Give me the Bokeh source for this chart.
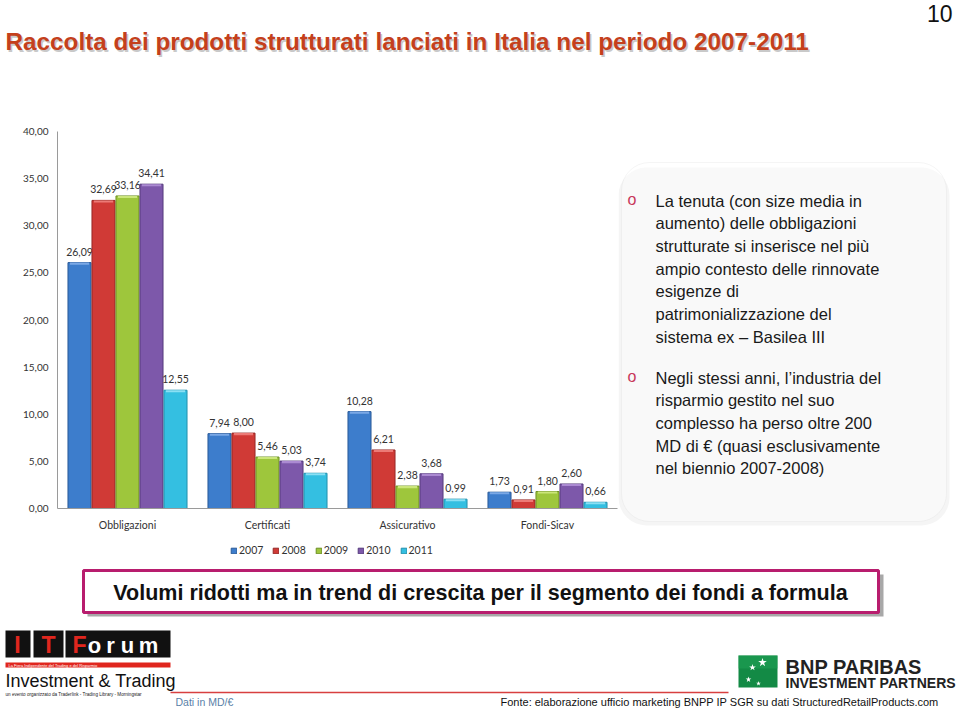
from bokeh.plotting import figure
from bokeh.layouts import column, row
from bokeh.models import (Range1d, FactorRange, FixedTicker, Legend, LegendItem,
                          BoxAnnotation, ColumnDataSource)
from bokeh.transform import dodge
from bokeh.core.properties import value
from bokeh.embed import file_html
from bokeh.resources import INLINE

# ---------------- data ----------------
categories = ["Obbligazioni", "Certificati", "Assicurativo", "Fondi-Sicav"]
years = ["2007", "2008", "2009", "2010", "2011"]
v2007 = [26.09, 7.94, 10.28, 1.73]
v2008 = [32.69, 8.00, 6.21, 0.91]
v2009 = [33.16, 5.46, 2.38, 1.80]
v2010 = [34.41, 5.03, 3.68, 2.60]
v2011 = [12.55, 3.74, 0.99, 0.66]
y_ticks = [0, 5, 10, 15, 20, 25, 30, 35, 40]
y_tick_labels = ["0,00", "5,00", "10,00", "15,00", "20,00", "25,00", "30,00", "35,00", "40,00"]

series = [v2007, v2008, v2009, v2010, v2011]
colors = ["#3d7dcc", "#d03a36", "#9ec63c", "#7d58aa", "#34bfe1"]
dark = ["#2a5a98", "#962826", "#6c8f24", "#553a7c", "#2290ad"]
light = ["#7aa8e6", "#ec7a76", "#cbe67a", "#ab8ad2", "#8ae0f4"]

SANS = "Liberation Sans"
CAL = "Lato"


def canvas(w, h, x0, x1, y0, y1, **kw):
    f = figure(width=w, height=h, x_range=Range1d(x0, x1), y_range=Range1d(y1, y0),
               output_backend="svg", toolbar_location=None, min_border=0,
               x_axis_location=None, y_axis_location=None, **kw)
    f.outline_line_color = None
    f.grid.visible = False
    f.background_fill_color = "white"
    f.border_fill_color = "white"
    return f

# ---------------- top (title) ----------------
TITLE = "Raccolta dei prodotti strutturati lanciati in Italia nel periodo 2007-2011"
top = canvas(960, 120, 0, 960, 0, 120)
top.text(x=[6.5], y=[42.5], text=[TITLE], text_font=value(SANS), text_font_style="bold",
         text_font_size="24.3px", text_color="#c9c9c9", text_baseline="middle", text_align="left")
top.text(x=[5], y=[41], text=[TITLE], text_font=value(SANS), text_font_style="bold",
         text_font_size="24.3px", text_color="#c4401c", text_baseline="middle", text_align="left")
top.text(x=[952], y=[13], text=["10"], text_font=value(SANS), text_font_size="23px",
         text_color="#111111", text_baseline="middle", text_align="right")

# ---------------- bar chart ----------------
p = figure(width=618, height=420, x_range=FactorRange(factors=categories, range_padding=0),
           y_range=Range1d(0, 40), output_backend="svg", toolbar_location=None,
           min_border_left=57, min_border_right=1, min_border_top=11, min_border_bottom=32)
p.outline_line_color = None
p.grid.visible = False
p.background_fill_color = "white"
p.border_fill_color = "white"

bw = 24.0 / 140.0
for i, vals in enumerate(series):
    off = (i - 2) * bw
    src = ColumnDataSource(dict(cat=categories, val=vals,
                                cap=[v - 0.22 for v in vals],
                                lab=[f"{v:.2f}".replace(".", ",") for v in vals]))
    p.vbar(x=dodge("cat", off, range=p.x_range), top="val", bottom=0, width=bw * 0.96,
           source=src, fill_color=colors[i], line_color=dark[i], line_width=1)
    p.vbar(x=dodge("cat", off, range=p.x_range), top="val", bottom="cap", width=bw * 0.8,
           source=src, fill_color=light[i], line_color=None)
    p.text(x=dodge("cat", off, range=p.x_range), y="val", text="lab", source=src,
           text_font=value(CAL), text_font_size="10.5px", text_color="#333333",
           text_align="center", text_baseline="bottom", y_offset=-7)

p.yaxis.ticker = FixedTicker(ticks=y_ticks)
p.yaxis.major_label_overrides = {t: l for t, l in zip(y_ticks, y_tick_labels)}
p.yaxis.major_tick_line_color = None
p.yaxis.minor_tick_line_color = None
p.yaxis.axis_line_color = "#9a9a9a"
p.yaxis.major_label_text_font = CAL
p.yaxis.major_label_text_font_size = "10px"
p.yaxis.major_label_text_color = "#333333"
p.yaxis.major_label_standoff = 3

p.xaxis.major_tick_line_color = None
p.xaxis.axis_line_color = "#9a9a9a"
p.xaxis.major_label_text_font = CAL
p.xaxis.major_label_text_font_size = "10.5px"
p.xaxis.major_label_text_color = "#333333"
p.xaxis.major_label_standoff = 4

# legend strip under the chart
lf = figure(width=618, height=20, x_range=Range1d(0, 1), y_range=Range1d(0, 1),
            output_backend="svg", toolbar_location=None, min_border=0,
            min_border_left=57, min_border_right=1,
            x_axis_location=None, y_axis_location=None)
lf.outline_line_color = None
lf.grid.visible = False
items = []
for i, yr in enumerate(years):
    r = lf.quad(left=[-6], right=[-5], top=[-5], bottom=[-6],
                fill_color=colors[i], line_color=dark[i])
    items.append(LegendItem(label=yr, renderers=[r]))
lf.add_layout(Legend(items=items, orientation="horizontal", location=(173, 4),
                     label_text_font=CAL, label_text_font_size="10.5px", label_text_color="#333333",
                     glyph_width=7, glyph_height=7, spacing=9, label_standoff=2,
                     label_height=12, padding=1, margin=0, border_line_color=None,
                     background_fill_alpha=0))

# ---------------- right text panel ----------------
tp = canvas(342, 440, 618, 960, 120, 560)
tp.add_layout(BoxAnnotation(left=618, right=949, top=167, bottom=525, border_radius=28,
                            fill_color="#e6e6e6", line_color=None, level="underlay"))
tp.add_layout(BoxAnnotation(left=621, right=946, top=162, bottom=521, border_radius=28,
                            fill_color="white", line_color="#dedede", line_width=1,
                            level="underlay"))
para1 = ["La tenuta (con size media in", "aumento) delle obbligazioni",
         "strutturate si inserisce nel più", "ampio contesto delle rinnovate",
         "esigenze di", "patrimonializzazione del", "sistema ex \u2013 Basilea III"]
para2 = ["Negli stessi anni, l\u2019industria del", "risparmio gestito nel suo",
         "complesso ha perso oltre 200", "MD di \u20ac (quasi esclusivamente",
         "nel biennio 2007-2008)"]
lh = 22.7
ys1 = [200 + k * lh for k in range(len(para1))]
ys2 = [377 + k * lh for k in range(len(para2))]
tp.text(x=[655] * (len(para1) + len(para2)), y=ys1 + ys2, text=para1 + para2,
        text_font=value(SANS), text_font_size="16.5px", text_color="#1a1a1a",
        text_baseline="middle", text_align="left")
tp.text(x=[627, 627], y=[199, 376], text=["o", "o"], text_font=value(SANS),
        text_font_size="16px", text_color="#c8385a", text_baseline="middle", text_align="left")

# ---------------- bottom ----------------
bt = canvas(960, 148, 0, 960, 560, 708)
bt.quad(left=[87], right=[883], top=[574], bottom=[616], fill_color="#a8a8a8", line_color=None)
bt.quad(left=[83], right=[878], top=[570], bottom=[612], fill_color="white",
        line_color="#b81d6e", line_width=3)
bt.text(x=[480], y=[592], text=["Volumi ridotti ma in trend di crescita per il segmento dei fondi a formula"],
        text_font=value(SANS), text_font_style="bold", text_font_size="21.5px",
        text_color="#111111", text_baseline="middle", text_align="center")

bt.quad(left=[5, 33, 65], right=[30, 63, 170], top=[630, 630, 630], bottom=[657, 657, 657],
        fill_color="#111111", line_color=None)
bt.text(x=[17, 48, 79], y=[644, 644, 644], text=["I", "T", "F"], text_font=value(SANS),
        text_font_style="bold", text_font_size="23px", text_color="#e0261e",
        text_baseline="middle", text_align="center")
bt.text(x=[94, 110, 127, 148], y=[645, 645, 645, 645], text=["o", "r", "u", "m"],
        text_font=value(SANS), text_font_style="bold", text_font_size="22px",
        text_color="white", text_baseline="middle", text_align="center")
bt.quad(left=[5], right=[170], top=[662], bottom=[667], fill_color="#e0261e", line_color=None)
bt.text(x=[8], y=[664.5], text=["La Fiera Indipendente del Trading e del Risparmio"],
        text_font=value(SANS), text_font_size="4px", text_color="white",
        text_baseline="middle", text_align="left")
bt.text(x=[5], y=[680], text=["Investment & Trading"], text_font=value(SANS),
        text_font_size="18px", text_color="#111111", text_baseline="middle", text_align="left")
bt.text(x=[5], y=[694], text=["un evento organizzato da Traderlink - Trading Library - Morningstar"],
        text_font=value(SANS), text_font_size="4.6px", text_color="#222222",
        text_baseline="middle", text_align="left")
bt.segment(x0=[170], y0=[692], x1=[728], y1=[692], line_color="#d84040", line_width=1.5)
bt.text(x=[175], y=[701], text=["Dati in MD/\u20ac"], text_font=value(SANS),
        text_font_size="10.5px", text_color="#5a7fa8", text_baseline="middle", text_align="left")
bt.text(x=[500], y=[701], text=["Fonte: elaborazione ufficio marketing BNPP IP SGR su dati StructuredRetailProducts.com"],
        text_font=value(SANS), text_font_size="11px", text_color="#111111",
        text_baseline="middle", text_align="left")

bt.quad(left=[738], right=[777], top=[655], bottom=[687], fill_color="#138a45", line_color=None)
bt.quad(left=[738], right=[777], top=[655], bottom=[668], fill_color="#1fa055", line_color=None, fill_alpha=0.6)
bt.scatter(x=[762, 752, 748, 758], y=[662, 667, 679, 683], marker="star", size=[9, 7, 6, 5],
           fill_color="white", line_color=None)
bt.text(x=[785], y=[666], text=["BNP PARIBAS"], text_font=value(SANS), text_font_style="bold",
        text_font_size="20px", text_color="#222222", text_baseline="middle", text_align="left")
bt.text(x=[785], y=[682], text=["INVESTMENT PARTNERS"], text_font=value(SANS), text_font_style="bold",
        text_font_size="14px", text_color="#222222", text_baseline="middle", text_align="left")

layout = column(top, row(column(p, lf), tp), bt)
open("out.html", "w").write(file_html(layout, INLINE))
